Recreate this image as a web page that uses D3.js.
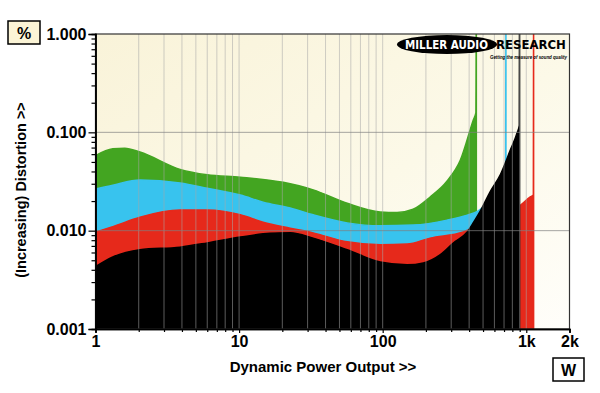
<!DOCTYPE html>
<html lang="en">
<head>
  <meta charset="UTF-8">
  <script src="https://d3js.org/d3.v7.min.js"></script>
  <title>Distortion vs Dynamic Power Output</title>
  <style>
    body { margin: 0; background: #fff; }
    text { font-family: "Liberation Sans", Arial, sans-serif; font-weight: bold; }
  </style>
</head>
<body>
  <svg width="600" height="393"></svg>

  <script>
    // data: [power W, distortion %]
    var greenData = [
      [1, 0.058], [1.32, 0.068], [1.6, 0.069], [2.04, 0.063], [3.88, 0.042], [6, 0.037],
      [10.2, 0.035], [20.3, 0.031], [32.8, 0.026], [56.6, 0.019], [96, 0.0155],
      [126, 0.0153], [163, 0.0165], [214, 0.022], [281, 0.032], [347, 0.052],
      [427, 0.133], [446, 0.16], [449, 3]
    ];
    var blueData = [
      [1, 0.0265], [1.32, 0.029], [2.04, 0.0327], [3.88, 0.0305], [6, 0.027],
      [10.2, 0.023], [14.7, 0.0195], [22.7, 0.017], [32.8, 0.0145], [56.6, 0.012],
      [96, 0.0112], [163, 0.0114], [281, 0.0128], [388, 0.0144], [460, 0.0158],
      [561, 0.021], [650, 0.032], [718, 0.042], [722, 3]
    ];
    var redData = [
      [1, 0.0097], [1.32, 0.011], [2.04, 0.0137], [3.88, 0.0162], [6, 0.0162],
      [10.2, 0.0145], [14.7, 0.0122], [22.7, 0.0106], [32.8, 0.0095], [56.6, 0.0077],
      [96, 0.0072], [148, 0.0073], [214, 0.0084], [364, 0.0097], [500, 0.012],
      [800, 0.016], [905, 0.018], [1066, 0.022], [1120, 0.023], [1125, 3]
    ];
    var blackData = [
      [1, 0.0043], [1.32, 0.0054], [2.04, 0.0064], [3.88, 0.0068], [6, 0.0075],
      [10.2, 0.0086], [16.4, 0.0094], [22.7, 0.0095], [32.8, 0.0084], [56.6, 0.0064],
      [96, 0.0048], [148, 0.0045], [192, 0.0047], [252, 0.0057], [310, 0.0075],
      [388, 0.0097], [430, 0.0122], [478, 0.0158], [561, 0.025], [659, 0.037],
      [774, 0.066], [866, 0.1], [894, 0.118], [898, 3]
    ];

    var series = [
      { data: greenData, color: "#43a521" },
      { data: blueData, color: "#38c3ee" },
      { data: redData, color: "#e6291b" },
      { data: blackData, color: "#000000" }
    ];

    var xMajor = [1, 10, 100, 1000, 2000];
    var xLabels = ["1", "10", "100", "1k", "2k"];
    var yMajor = [0.001, 0.01, 0.1, 1];
    var yLabels = ["0.001", "0.010", "0.100", "1.000"];

    var svg = d3.select("svg");
    var pL = 95.5, pR = 569.5, pT = 34, pB = 329;

    var x = d3.scaleLog().domain([1, 2000]).range([pL, pR]);
    var y = d3.scaleLog().domain([0.001, 1]).range([pB, pT]);

    // minor ticks
    var xMinor = [];
    [1, 10, 100].forEach(function(d){ for (var k = 2; k <= 9; k++) xMinor.push(d * k) });
    var yMinor = [];
    [0.001, 0.01, 0.1].forEach(function(d){ for (var k = 2; k <= 9; k++) yMinor.push(d * k) });

    var defs = svg.append("defs");
    var grad = defs.append("linearGradient").attr("id", "bg")
      .attr("x1", "0").attr("y1", "0").attr("x2", "1").attr("y2", "1");
    grad.append("stop").attr("offset", "0%").attr("stop-color", "#f9f3d9");
    grad.append("stop").attr("offset", "55%").attr("stop-color", "#fcf9e8");
    grad.append("stop").attr("offset", "100%").attr("stop-color", "#fffefa");
    defs.append("clipPath").attr("id", "clip").append("rect")
      .attr("x", pL).attr("y", pT).attr("width", pR - pL).attr("height", pB - pT);

    svg.append("rect")
      .attr("x", pL).attr("y", pT).attr("width", pR - pL).attr("height", pB - pT)
      .attr("fill", "url(#bg)");

    var plot = svg.append("g").attr("clip-path", "url(#clip)");

    var area = d3.area()
      .x(function(d){ return x(d[0]) })
      .y0(y(0.001))
      .y1(function(d){ return y(d[1]) })
      .curve(d3.curveMonotoneX);

    plot.selectAll(".series")
      .data(series)
      .enter()
      .append("path")
      .attr("class", "series")
      .attr("d", function(d){ return area(d.data) })
      .attr("fill", function(d){ return d.color })
      .attr("stroke", function(d){ return d.color })
      .attr("stroke-width", 1.5);

    // grid on top
    plot.selectAll(".vgrid")
      .data(xMinor.concat([10, 100, 1000]))
      .enter()
      .append("line")
      .attr("x1", function(d){ return x(d) }).attr("x2", function(d){ return x(d) })
      .attr("y1", pT).attr("y2", pB)
      .attr("stroke", "#a8a8a8").attr("stroke-opacity", 0.55).attr("stroke-width", 1);
    plot.selectAll(".hgrid")
      .data([0.01, 0.1])
      .enter()
      .append("line")
      .attr("x1", pL).attr("x2", pR)
      .attr("y1", function(d){ return y(d) }).attr("y2", function(d){ return y(d) })
      .attr("stroke", "#808080").attr("stroke-opacity", 0.7).attr("stroke-width", 1);

    // logo (texts squeezed horizontally with a scale)
    var logo = svg.append("g");
    logo.append("ellipse").attr("cx", 447).attr("cy", 44.5).attr("rx", 50).attr("ry", 9.5).attr("fill", "#000");
    var t1 = logo.append("text").attr("x", 0).attr("y", 0).attr("fill", "#fff")
      .style("font-family", "DejaVu Sans, sans-serif")
      .attr("font-size", 13).text("MILLER AUDIO");
    var w1 = t1.node().getComputedTextLength();
    t1.attr("transform", "translate(405,49) scale(" + (83 / w1) + ",1)");
    var t2 = logo.append("text").attr("x", 0).attr("y", 0).attr("fill", "#000")
      .style("font-family", "DejaVu Sans, sans-serif")
      .attr("font-size", 13).text("RESEARCH");
    var w2 = t2.node().getComputedTextLength();
    t2.attr("transform", "translate(496,49) scale(" + (70 / w2) + ",1)");
    logo.append("text").attr("x", 490).attr("y", 59).attr("fill", "#000")
      .attr("font-size", 5).attr("font-style", "italic").attr("textLength", 77).attr("lengthAdjust", "spacingAndGlyphs")
      .text("Getting the measure of sound quality");

    // frame
    svg.append("rect")
      .attr("x", pL).attr("y", pT).attr("width", pR - pL).attr("height", pB - pT)
      .attr("fill", "none").attr("stroke", "#333").attr("stroke-width", 1.2);

    // axes
    var yAxisMinor = d3.axisLeft(y).tickValues(yMinor).tickSize(4).tickFormat("");
    var yAxis = d3.axisLeft(y).tickValues(yMajor).tickSize(7).tickPadding(2)
      .tickFormat(function(d, i){ return yLabels[i] });
    var xAxisMinor = d3.axisBottom(x).tickValues(xMinor).tickSize(3).tickFormat("");
    var xAxis = d3.axisBottom(x).tickValues(xMajor).tickSize(4).tickPadding(3)
      .tickFormat(function(d, i){ return xLabels[i] });

    function style(g) {
      g.select(".domain").attr("stroke", "#000").attr("stroke-width", 1.5);
      g.selectAll(".tick line").attr("stroke", "#000").attr("stroke-width", 1.2);
      g.selectAll("text").attr("fill", "#000").attr("font-size", 16);
    }
    svg.append("g").attr("transform", "translate(" + pL + ",0)").call(yAxisMinor).call(style);
    svg.append("g").attr("transform", "translate(" + pL + ",0)").call(yAxis).call(style);
    svg.append("g").attr("transform", "translate(0," + pB + ")").call(xAxisMinor).call(style);
    svg.append("g").attr("transform", "translate(0," + pB + ")").call(xAxis).call(style);

    // titles
    svg.append("text")
      .attr("transform", "translate(26,190) rotate(-90)")
      .attr("text-anchor", "middle").attr("font-size", 14.5)
      .text("(Increasing) Distortion >>");
    svg.append("text")
      .attr("x", 323).attr("y", 372)
      .attr("text-anchor", "middle").attr("font-size", 15)
      .text("Dynamic Power Output >>");

    // unit boxes
    svg.append("rect").attr("x", 8).attr("y", 21).attr("width", 32).attr("height", 23)
      .attr("fill", "#fbf4d6").attr("stroke", "#000").attr("stroke-width", 1.5);
    svg.append("text").attr("x", 24).attr("y", 38.5).attr("text-anchor", "middle")
      .attr("font-size", 16).text("%");
    svg.append("rect").attr("x", 553).attr("y", 358).attr("width", 31).attr("height", 23)
      .attr("fill", "#fff").attr("stroke", "#000").attr("stroke-width", 1.5);
    svg.append("text").attr("x", 568.5).attr("y", 375.5).attr("text-anchor", "middle")
      .attr("font-size", 16).text("W");
  </script>
</body>
</html>
